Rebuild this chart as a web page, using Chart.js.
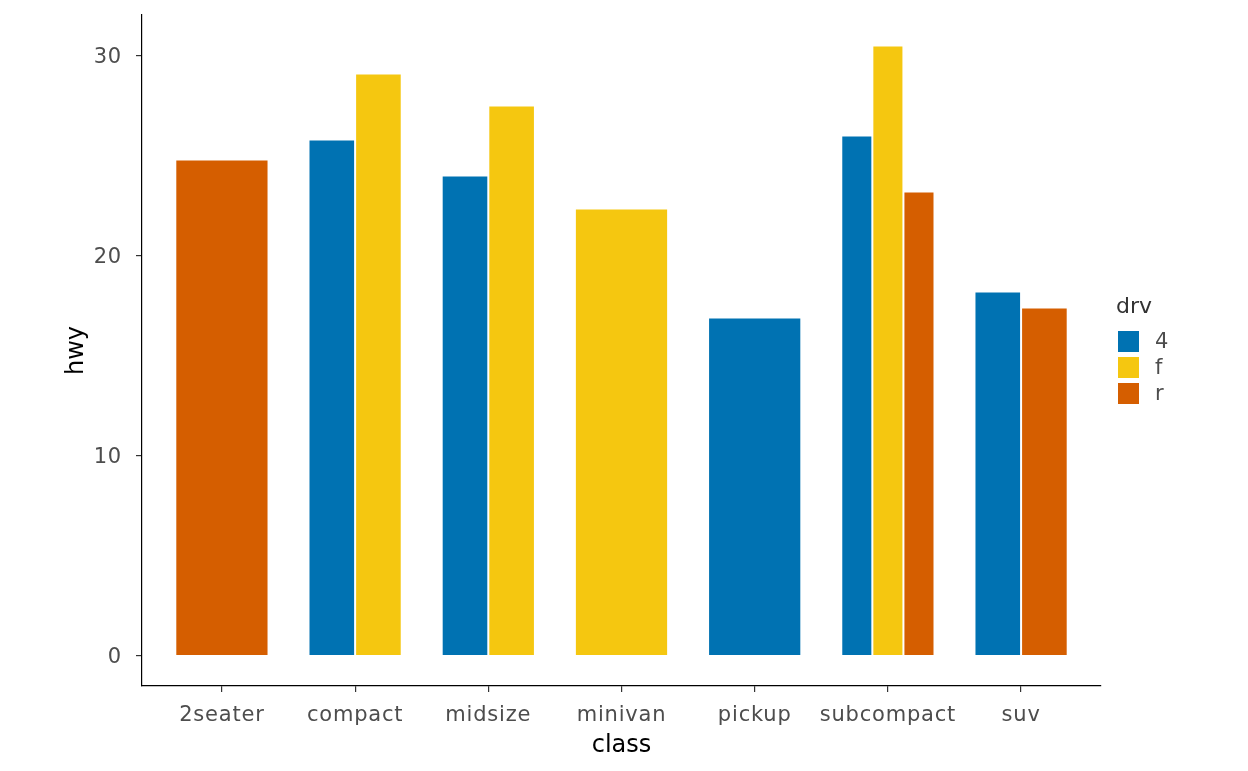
<!DOCTYPE html>
<html>
<head>
<meta charset="utf-8">
<script src="https://cdn.jsdelivr.net/npm/chart.js@4"></script>
<style>
  html, body { margin: 0; padding: 0; background: #ffffff; }
  #wrap { width: 1248px; height: 771px; position: relative; }
</style>
</head>
<body>
<div id="wrap"><canvas id="c"></canvas></div>
<script>
// ---- data ----
const classes = ['2seater', 'compact', 'midsize', 'minivan', 'pickup', 'subcompact', 'suv'];
const hwy4 = [null, 25.8, 24.0, null, 16.9, 26.0, 18.2];
const hwyF = [null, 29.1, 27.5, 22.35, null, 30.5, null];
const hwyR = [24.8, null, null, null, null, 23.2, 17.4];
const yTickValues = [0, 10, 20, 30];
const drvLabels = ['4', 'f', 'r'];
const drvColors = ['#0072B2', '#F5C710', '#D55E00'];
const xTitle = 'class';
const yTitle = 'hwy';
const legendTitle = 'drv';

const FONT = "'DejaVu Sans', sans-serif";

function toPoints(arr) {
  return classes.map((c, i) => ({ x: i + 1, y: arr[i] }));
}

const seriesValues = [hwy4, hwyF, hwyR];
const datasets = drvLabels.map((lab, k) => ({
  label: lab,
  data: toPoints(seriesValues[k]),
  backgroundColor: drvColors[k],
  borderColor: '#ffffff',
  borderWidth: 1,
  borderSkipped: 'start',
  skipNull: true,
  categoryPercentage: 0.7,
  barPercentage: 1.0
}));

const overlay = {
  id: 'overlay',
  beforeDraw(chart) {
    chart.ctx.letterSpacing = '0.8px';
  },
  afterDraw(chart) {
    const ctx = chart.ctx;
    const a = chart.chartArea;
    ctx.save();
    ctx.letterSpacing = '0px';
    // axis titles
    ctx.fillStyle = '#000000';
    ctx.font = "24px " + FONT;
    ctx.textAlign = 'center';
    ctx.textBaseline = 'alphabetic';
    ctx.fillText(xTitle, (a.left + a.right) / 2, 752);
    ctx.save();
    ctx.translate(83, (a.top + a.bottom) / 2);
    ctx.rotate(-Math.PI / 2);
    ctx.fillText(yTitle, 0, 0);
    ctx.restore();
    // legend
    ctx.fillStyle = '#333333';
    ctx.font = "22px " + FONT;
    ctx.textAlign = 'left';
    ctx.fillText(legendTitle, 1116, 313);
    ctx.letterSpacing = '0.8px';
    ctx.font = "21px " + FONT;
    ctx.textBaseline = 'middle';
    drvLabels.forEach((lab, k) => {
      const y = 330 + k * 26;
      ctx.fillStyle = drvColors[k];
      ctx.fillRect(1117, y, 23, 23);
      ctx.strokeStyle = '#ffffff';
      ctx.lineWidth = 1;
      ctx.strokeRect(1117.5, y + 0.5, 22, 22);
      ctx.fillStyle = '#4D4D4D';
      ctx.fillText(lab, 1155, y + 13);
    });
    ctx.restore();
  }
};

new Chart(document.getElementById('c'), {
  type: 'bar',
  data: { datasets },
  plugins: [overlay],
  options: {
    responsive: true,
    maintainAspectRatio: false,
    animation: false,
    events: [],
    layout: { padding: { top: 15, right: 147, left: 0, bottom: 0 } },
    plugins: { legend: { display: false }, tooltip: { enabled: false }, title: { display: false } },
    scales: {
      x: {
        type: 'linear',
        min: 0.4,
        max: 7.6,
        offset: false,
        afterFit(s) { s.height = 85; s.paddingLeft = 0; s.paddingRight = 0; },
        afterBuildTicks(s) { s.ticks = classes.map((c, i) => ({ value: i + 1 })); },
        grid: { offset: false, drawOnChartArea: false, drawTicks: true, tickLength: 6, color: '#333333', lineWidth: 1.2 },
        border: { display: true, color: '#000000', width: 1.2 },
        ticks: {
          autoSkip: false,
          maxRotation: 0,
          padding: 11,
          color: '#4D4D4D',
          font: { family: FONT, size: 21 },
          callback: (v) => classes[Math.round(v) - 1] || ''
        }
      },
      y: {
        type: 'linear',
        min: -1.525,
        max: 32.025,
        afterFit(s) { s.width = 142; s.paddingTop = 0; s.paddingBottom = 0; },
        afterBuildTicks(s) { s.ticks = yTickValues.map(v => ({ value: v })); },
        grid: { drawOnChartArea: false, drawTicks: true, tickLength: 6, color: '#333333', lineWidth: 1.2 },
        border: { display: true, color: '#000000', width: 1.2 },
        ticks: {
          padding: 14,
          labelOffset: 2,
          color: '#4D4D4D',
          font: { family: FONT, size: 21 },
          callback: (v) => String(v)
        }
      }
    }
  }
});
</script>
</body>
</html>
